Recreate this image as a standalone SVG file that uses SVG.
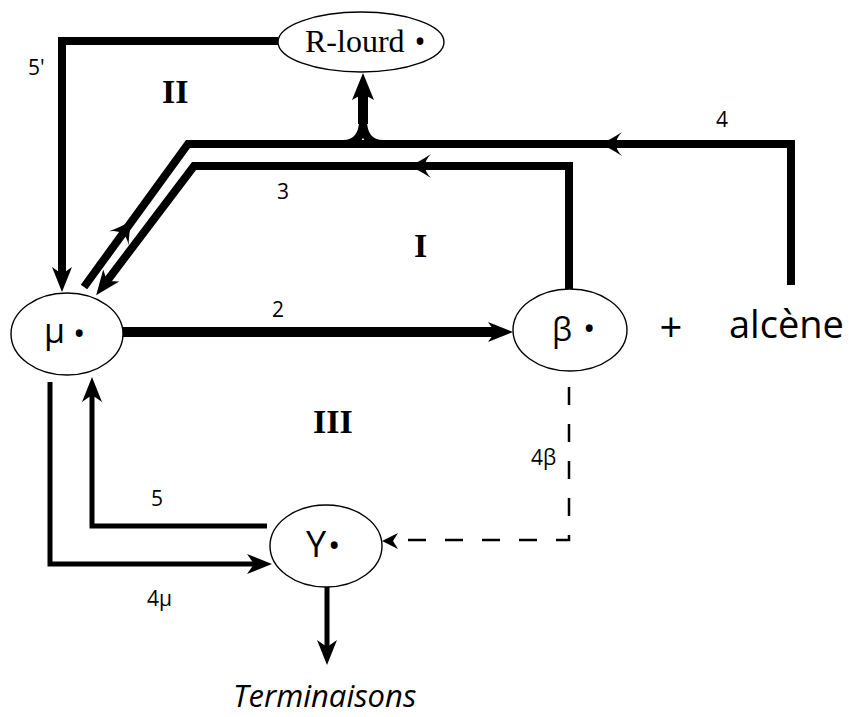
<svg xmlns="http://www.w3.org/2000/svg" width="849" height="717" viewBox="0 0 849 717">
<style>
.node{fill:#fff;stroke:#000;stroke-width:1.4}
.c{fill:none;stroke:#000;stroke-linejoin:miter;stroke-linecap:butt}
.w10{stroke-width:10}.w8{stroke-width:8}.w5{stroke-width:5}
.dash{fill:none;stroke:#000;stroke-width:2.5;stroke-dasharray:18 19}
.sans{font-family:"Open Sans","Noto Sans","DejaVu Sans",sans-serif;fill:#000}
.serif{font-family:"Liberation Serif","Times New Roman",serif;fill:#000}
.rom{font-family:"Liberation Serif","Times New Roman",serif;font-weight:bold;font-size:34px;fill:#000}
.lab{font-size:21px}
.ah{fill:#000}
</style>
<defs>
<marker id="arr" viewBox="0 -11 26 22" markerWidth="26" markerHeight="22" refX="7" refY="0" orient="auto" markerUnits="userSpaceOnUse">
<path d="M0,-10 L25,0 L0,10 L7,0 Z" fill="#000"/>
</marker>
<path id="barb" d="M3,0 Q-7,-4 -19,-12 Q-13,-6 -13,0 Q-13,6 -19,12 Q-7,4 3,0 Z"/>
</defs>

<g id="connectors">
<path id="c5prime" class="c w8" d="M278,41 H62 V274" marker-end="url(#arr)"/>
<path id="c4" class="c w8" d="M84,287 L188,144 H791 V285"/>
<use href="#barb" class="ah" transform="translate(130,223) rotate(-54)"/>
<use href="#barb" class="ah" transform="translate(603,144) rotate(180)"/>
<g id="c4branch">
<path class="c w8" d="M343,144 Q363,144 363,120"/>
<path class="c w8" d="M383,144 Q363,144 363,120"/>
<path class="c w10" d="M363,124 V92"/>
<path class="ah" d="M363,73 L374,100 L363,94 L352,100 Z"/>
</g>
<path id="c3" class="c w8" d="M569,289 V166 H194 L107,281" marker-end="url(#arr)"/>
<use href="#barb" class="ah" transform="translate(412,166) rotate(180)"/>
<path id="c2" class="c w10" d="M123,332 H495" marker-end="url(#arr)"/>
<path id="c5" class="c w5" d="M267,526 H92 V395" marker-end="url(#arr)"/>
<path id="c4mu" class="c w5" d="M50,382 V564 H254" marker-end="url(#arr)"/>
<path id="cterm" class="c w5" d="M327,587 V647" marker-end="url(#arr)"/>
<path id="c4beta" class="dash" d="M569,387 V540 H408"/>
<path class="ah" d="M382,541 L398,533 L393,541 L398,549 Z"/>
</g>

<g id="node-rlourd">
<ellipse class="node" cx="361" cy="42" rx="83" ry="30"/>
<text class="serif" x="305" y="52" font-size="32">R-lourd<tspan class="sans" x="414" y="53" font-size="32">•</tspan></text>
</g>
<g id="node-mu">
<ellipse class="node" cx="67" cy="334" rx="56" ry="41"/>
<text class="sans" x="44" y="343" font-size="34">μ<tspan x="73" y="345" font-size="33">•</tspan></text>
</g>
<g id="node-beta">
<ellipse class="node" cx="570" cy="330" rx="57" ry="41"/>
<text class="sans" x="552" y="341" font-size="32">β<tspan x="583" y="340" font-size="33">•</tspan></text>
</g>
<g id="node-y">
<ellipse class="node" cx="326" cy="546" rx="56" ry="41"/>
<text class="sans" x="306" y="557" font-size="36">Y<tspan x="328" y="557" font-size="33">•</tspan></text>
</g>
<g id="alcene">
<text class="sans" x="671" y="342" font-size="40" text-anchor="middle">+</text>
<text class="sans" x="729" y="338" font-size="38">alcène</text>
</g>
<g id="terminaisons">
<text class="sans" x="233" y="707" font-size="31" font-style="italic">Terminaisons</text>
</g>

<g id="labels">
<text class="rom" x="162" y="103">II</text>
<text class="rom" x="414" y="257">I</text>
<text class="rom" x="313" y="433">III</text>
<text class="sans lab" x="28" y="75">5'</text>
<text class="sans lab" x="716" y="127">4</text>
<text class="sans lab" x="277" y="199">3</text>
<text class="sans lab" x="272" y="317">2</text>
<text class="sans lab" x="151" y="506">5</text>
<text class="sans lab" x="147" y="606">4μ</text>
<text class="sans lab" x="531" y="465">4β</text>
</g>
</svg>
